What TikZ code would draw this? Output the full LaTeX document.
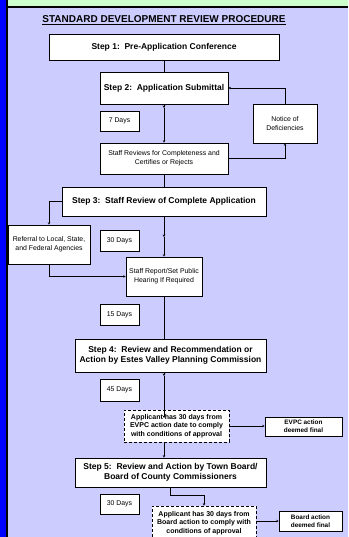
\documentclass[tikz,border=0pt]{standalone}
\usepackage{fontspec}
\setmainfont{Liberation Sans}
\usetikzlibrary{arrows.meta}
\definecolor{lavender}{RGB}{204,204,255}
\definecolor{mint}{RGB}{204,255,204}
\begin{document}
\begin{tikzpicture}[
  x=1pt, y=-1pt,
  every node/.style = {inner sep=0pt, align=center},
  stepbox/.style = {draw, fill=white, line width=.8pt,
    font=\fontsize{8.5}{10}\selectfont\bfseries},
  notebox/.style = {draw, fill=white, line width=.6pt,
    font=\fontsize{6.9}{9}\selectfont},
  waitbox/.style = {draw, fill=white, line width=.7pt, dashed,
    dash pattern=on 3pt off 2pt,
    font=\fontsize{7}{8.7}\selectfont\bfseries},
  endbox/.style = {draw, fill=white, line width=.6pt,
    font=\fontsize{6.4}{8}\selectfont\bfseries},
  link/.style = {line width=.8pt},
  arr/.style = {line width=.8pt, -{Stealth[length=2.5pt,width=2.5pt]}}]
  \clip (0,0) rectangle (348,537);
  \fill[lavender] (0,0) rectangle (348,537);
  \fill[blue] (0,0) rectangle (6,537);
  \fill[black] (6,0) rectangle (8,537);
  \fill[mint] (8,0) rectangle (348,6);
  \fill[black] (8,6) rectangle (348,8);
  \node (title) at (164,20)
    {\fontsize{10}{12}\selectfont\bfseries\underline{STANDARD DEVELOPMENT REVIEW PROCEDURE}};
  \node[stepbox, minimum width=230, minimum height=26] (step1) at (164,47)
    {Step 1:\ \ Pre-Application Conference};
  \node[stepbox, minimum width=128, minimum height=32] (step2) at (164,88)
    {Step 2:\ \ Application Submittal};
  \node[notebox, minimum width=39, minimum height=20] (days7) at (119.5,121) {7 Days};
  \node[notebox, minimum width=64, minimum height=39] (notice) at (285,123.5)
    {Notice of\\Deficiencies};
  \node[notebox, minimum width=128, minimum height=31] (review) at (164,158.5)
    {Staff Reviews for Completeness and\\Certifies or Rejects};
  \node[stepbox, minimum width=204, minimum height=29] (step3) at (164,201.5)
    {Step 3:\ \ Staff Review of Complete Application};
  \node[notebox, minimum width=82, minimum height=39] (referral) at (49,244.5)
    {Referral to Local, State,\\and Federal Agencies};
  \node[notebox, minimum width=39, minimum height=21] (days30) at (119.5,240.5) {30 Days};
  \node[notebox, minimum width=76, minimum height=39] (report) at (164,276.5)
    {Staff Report/Set Public\\Hearing If Required};
  \node[notebox, minimum width=39, minimum height=21] (days15) at (119.5,314.5) {15 Days};
  \node[stepbox, minimum width=191, minimum height=33] (step4) at (170.5,355.5)
    {Step 4:\ \ Review and Recommendation or\\Action by Estes Valley Planning Commission};
  \node[notebox, minimum width=39, minimum height=22] (days45) at (119.5,390) {45 Days};
  \node[waitbox, minimum width=105, minimum height=32] (comply1) at (176.5,426)
    {Applicant has 30 days from\\EVPC action date to comply\\with conditions of approval};
  \node[endbox, minimum width=77, minimum height=19] (final1) at (303.5,426.5)
    {EVPC action\\deemed final};
  \node[stepbox, minimum width=191, minimum height=29] (step5) at (170.5,472.5)
    {Step 5:\ \ Review and Action by Town Board/\\Board of County Commissioners};
  \node[notebox, minimum width=39, minimum height=20] (days30b) at (119.5,504) {30 Days};
  \node[waitbox, minimum width=104, minimum height=34] (comply2) at (204,523)
    {Applicant has 30 days from\\Board action to comply with\\conditions of approval};
  \node[endbox, minimum width=63, minimum height=20] (final2) at (310.5,521)
    {Board action\\deemed final};
  \coordinate (tip2) at (164,108);
  \coordinate (tip3) at (164,237);
  \coordinate (tip4) at (164,376);
  \coordinate (end4) at (164,418);
  \coordinate (bend5) at (170,495);
  \draw[link] (step1) -- (step2);
  \draw[arr] (step2) -- (tip2);
  \draw[arr] (tip2) -- (review);
  \draw[arr] (review.east) -| (notice.south);
  \draw[arr] (notice.north) |- (step2.east);
  \draw[link] (review) -- (step3);
  \draw[arr] (step3.west) -| (referral.north);
  \draw[arr] (step3) -- (tip3);
  \draw[arr] (tip3) -- (report);
  \draw[arr] (referral.south) |- (report.west);
  \draw[link] (report.south) -- (report.south |- step4.north);
  \draw[arr] (step4.south -| tip4) -- (tip4);
  \draw[arr] (tip4) -- (end4);
  \draw[arr] (comply1.east) -- (comply1.east -| final1.west);
  \draw[arr] (comply1.south -| tip4) -- (step5.north -| tip4);
  \draw[arr] (step5.south -| bend5) -- (bend5) -| (comply2.north);
  \draw[arr] (comply2.east |- final2) -- (final2.west);
\end{tikzpicture}
\end{document}
